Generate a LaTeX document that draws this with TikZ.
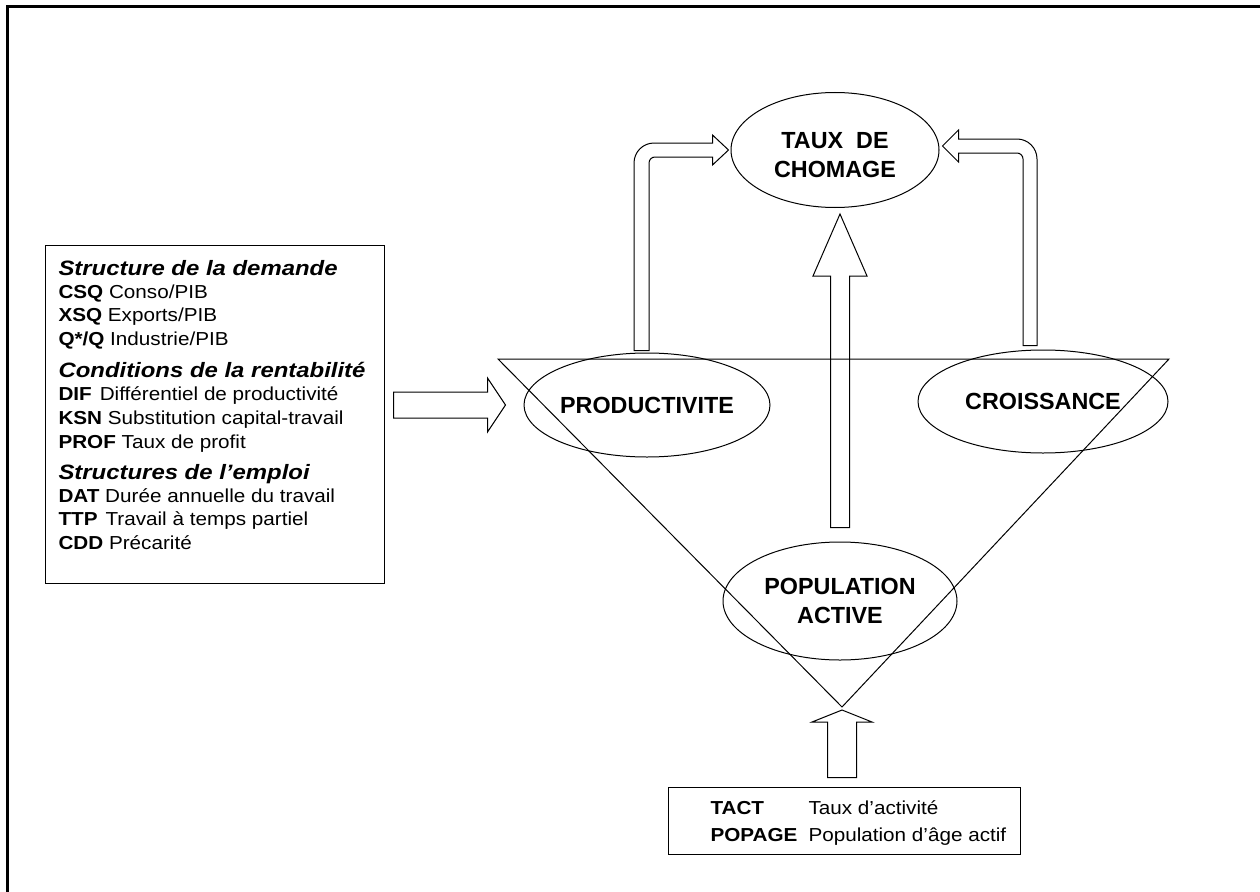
\documentclass[tikz,border=0pt]{standalone}
\usepackage{fontspec}
\setmainfont{Liberation Sans}
\newfontfamily\itemfont{Liberation Sans}[FakeStretch=1.1]
\newfontfamily\headfont{Liberation Sans}[FakeStretch=1.15]
\usetikzlibrary{shapes.geometric,calc}
\tikzset{every picture/.style={line width=0.75pt}}
\tikzset{
  etat/.style={draw, ellipse, inner sep=0pt, align=center, font=\fontsize{17.5}{21.5}\selectfont\bfseries},
  cadre/.style={draw, rectangle, inner sep=0pt},
  fleche/.style={draw, line join=miter},
  titre/.style={anchor=base west, inner sep=0pt, font=\headfont\fontsize{15.6}{18}\selectfont\bfseries\itshape},
  ligne/.style={anchor=base west, inner sep=0pt, font=\itemfont\fontsize{14.1}{16}\selectfont},
}

\begin{document}
\begin{tikzpicture}[x=0.75pt,y=0.75pt,yscale=-1,xscale=1]
\useasboundingbox (0,0) rectangle (1260,892);

%Frame
\draw [line width=2.25pt] (7,892) -- (7,7) -- (1260,7) ;

%Shape: Triangle
\coordinate (vg) at (498,359) ;
\coordinate (vd) at (1169,359) ;
\coordinate (vb) at (842,707) ;
\draw (vg) -- (vd) -- (vb) -- cycle ;

%Shape: Ellipse
\node [etat, minimum width=156pt, minimum height=86.25pt] (chomage) at (835,150) {\rule{0pt}{20pt}TAUX\ \ DE\\CHOMAGE};
%Shape: Ellipse
\node [etat, minimum width=184.5pt, minimum height=78pt] (prod) at (647,405) {PRODUCTIVITE};
%Shape: Ellipse
\node [etat, minimum width=187.5pt, minimum height=77.25pt] (crois) at (1043,401.5) {CROISSANCE};
%Shape: Ellipse
\node [etat, minimum width=175.5pt, minimum height=88.5pt] (pop) at (840,601) {POPULATION\\ACTIVE};

%Shape: Rectangle
\node [cadre, minimum width=254.25pt, minimum height=253.5pt] (facteurs) at (214.5,414) {};
%Shape: Rectangle
\node [cadre, minimum width=264pt, minimum height=50.25pt] (sources) at (844,820.5) {};

% Text Node
\node [titre] (tdemande) at (58,275) {Structure de la demande};
\node [ligne] (csq) at (58,298.5) {\textbf{CSQ} Conso/PIB};
\node [ligne] (xsq) at (58,321.5) {\textbf{XSQ} Exports/PIB};
\node [ligne] (qsq) at (58,345.5) {\textbf{Q*/Q} Industrie/PIB};
% Text Node
\node [titre] (trenta) at (58,377) {Conditions de la rentabilité};
\node [ligne] (dif) at (58,400.5) {\textbf{DIF}\hspace{6pt}Différentiel de productivité};
\node [ligne] (ksn) at (58,424.5) {\textbf{KSN} Substitution capital-travail};
\node [ligne] (prof) at (58,448.5) {\textbf{PROF} Taux de profit};
% Text Node
\node [titre] (temploi) at (58,479) {Structures de l’emploi};
\node [ligne] (dat) at (58,502.5) {\textbf{DAT} Durée annuelle du travail};
\node [ligne] (ttp) at (58,525.5) {\textbf{TTP}\hspace{6pt}Travail à temps partiel};
\node [ligne] (cdd) at (58,549.5) {\textbf{CDD} Précarité};
% Text Node
\node [ligne] (tact) at (710,814.5) {\textbf{TACT}};
\node [ligne] (tacttxt) at (808,814.5) {Taux d’activité};
\node [ligne] (popage) at (710,841.5) {\textbf{POPAGE}};
\node [ligne] (popagetxt) at (808,841.5) {Population d’âge actif};

%Block Arrow: facteurs -> productivite
\draw [fleche] ($(facteurs.east |- prod.west)+(9,-13)$) -- ($(prod.west)+(-36,-13)$) -- ($(prod.west)+(-36,-27)$) -- ($(prod.west)+(-18,0)$) -- ($(prod.west)+(-36,27)$) -- ($(prod.west)+(-36,13)$) -- ($(facteurs.east |- prod.west)+(9,13)$) -- cycle ;
%Block Arrow: population -> chomage
\draw [fleche] ($(pop.north)+(-9.5,-14)$) -- ($(pop.north |- chomage.south)+(-9.5,68)$) -- ($(pop.north |- chomage.south)+(-27,68)$) -- ($(pop.north |- chomage.south)+(0,6)$) -- ($(pop.north |- chomage.south)+(27,68)$) -- ($(pop.north |- chomage.south)+(9.5,68)$) -- ($(pop.north)+(9.5,-14)$) -- cycle ;
%Block Arrow: sources -> triangle
\draw [fleche] ($(vb |- sources.north)+(-14.5,-9)$) -- ($(vb)+(-14.5,15)$) -- ($(vb)+(-30,15)$) -- ($(vb)+(0,3)$) -- ($(vb)+(30,15)$) -- ($(vb)+(14.5,15)$) -- ($(vb |- sources.north)+(14.5,-9)$) -- cycle ;
%Bent Arrow: productivite -> chomage
\draw [fleche] ($(prod.north)+(-13,-2)$) -- ($(prod.north |- chomage.west)+(-13,13)$) arc [start angle=180, end angle=270, radius=20] -- ($(chomage.west)+(-18,-7)$) -- ($(chomage.west)+(-18,-15)$) -- ($(chomage.west)+(-2,0)$) -- ($(chomage.west)+(-18,15)$) -- ($(chomage.west)+(-18,7)$) -- ($(prod.north |- chomage.west)+(8,7)$) arc [start angle=270, end angle=180, radius=6] -- ($(prod.north)+(2,-2)$) -- cycle ;
%Bent Arrow: croissance -> chomage
\draw [fleche] ($(crois.north)+(-20,-4)$) -- ($(crois.north |- chomage.east)+(-20,9)$) arc [start angle=0, end angle=-90, radius=6] -- ($(chomage.east)+(19,3)$) -- ($(chomage.east)+(19,12)$) -- ($(chomage.east)+(3,-4)$) -- ($(chomage.east)+(19,-20)$) -- ($(chomage.east)+(19,-11)$) -- ($(crois.north |- chomage.east)+(-26,-11)$) arc [start angle=-90, end angle=0, radius=20] -- ($(crois.north)+(-6,-4)$) -- cycle ;

\end{tikzpicture}
\end{document}
